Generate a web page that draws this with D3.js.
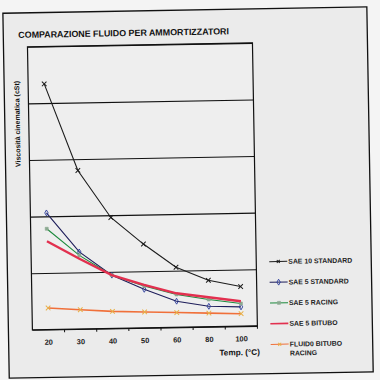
<!DOCTYPE html>
<html>
<head>
<meta charset="utf-8">
<script src="https://cdn.jsdelivr.net/npm/d3@7"></script>
<style>
  body { margin: 0; background: #f4f4f4; }
  svg { display: block; font-family: "Liberation Sans", Arial, sans-serif; }
</style>
</head>
<body>
<div id="vis"></div>
<script>
// temperature categories (°C)
const temps = ['20', '30', '40', '50', '60', '80', '100'];
const seriesNames = ['SAE 10 STANDARD', 'SAE 5 STANDARD', 'SAE 5 RACING', 'SAE 5 BITUBO', 'FLUIDO BITUBO RACING'];
// viscosity values (cSt, estimated)
const sae10Standard = [217, 140, 98, 74, 53, 41, 35];
const sae5Standard = [103, 68, 47, 34, 23, 18, 17];
const sae5Racing = [89, 65, 47, 37, 29, 24, 20];
const sae5Bitubo = [78, 62, 47, 38, 30, 26, 22];
const fluidoBituboRacing = [19, 17, 15, 14, 13, 12, 11];
const yTicks = [0, 50, 100, 150, 200, 250];

function drawChart() {
  const svg = d3.select('#vis').append('svg').attr('width', 380).attr('height', 380);
  const root = svg.append('g').attr('transform', 'rotate(-1, 190, 190)');

  // scanned page frame
  root.append('rect')
    .attr('x', 6).attr('y', 10).attr('width', 364).attr('height', 365)
    .attr('fill', '#ebebeb').attr('stroke', '#111').attr('stroke-width', 1.3);

  const margins = { top: 44, right: 125, bottom: 53, left: 30 };
  const chartWidth = 380 - margins.left - margins.right;
  const chartHeight = 380 - margins.top - margins.bottom;
  const chartArea = root.append('g').attr('transform', `translate(${margins.left},${margins.top})`);

  const xScale = d3.scaleBand().domain(temps).range([0, chartWidth]);
  const yScale = d3.scaleLinear().domain([0, 250]).range([chartHeight, 0]);

  chartArea.append('rect')
    .attr('width', chartWidth).attr('height', chartHeight)
    .attr('fill', '#eeeeee');

  // gridlines
  const grid = d3.axisLeft(yScale).tickValues(yTicks).tickSize(-chartWidth).tickFormat('');
  chartArea.append('g').attr('class', 'gridlines').call(grid)
    .call(g => g.select('.domain').remove())
    .selectAll('line').attr('stroke', '#111').attr('stroke-width', 1.1);

  // plot frame
  chartArea.append('rect')
    .attr('width', chartWidth).attr('height', chartHeight)
    .attr('fill', 'none').attr('stroke', '#111').attr('stroke-width', 1.2);

  // x axis with ticks between categories
  const bottom = chartArea.append('g').attr('transform', `translate(0,${chartHeight})`);
  bottom.append('g')
    .call(d3.axisBottom(xScale).tickSize(0).tickPadding(10))
    .call(g => g.select('.domain').remove())
    .selectAll('text')
    .attr('font-size', '7.4px').attr('font-weight', 'bold').attr('fill', '#222')
    .attr('font-family', '"Liberation Sans", Arial, sans-serif');
  bottom.selectAll('.between')
    .data(temps)
    .join('line')
    .attr('class', 'between')
    .attr('x1', d => xScale(d) + xScale.bandwidth()).attr('x2', d => xScale(d) + xScale.bandwidth())
    .attr('y1', 0).attr('y2', 3)
    .attr('stroke', '#111');

  const series = [
    { name: seriesNames[0], values: sae10Standard, color: '#1c1c1c', width: 1.1, marker: 'x', mColor: '#1c1c1c' },
    { name: seriesNames[1], values: sae5Standard, color: '#1d1d5a', width: 1.1, marker: 'diamond', mColor: '#2a3a9a' },
    { name: seriesNames[2], values: sae5Racing, color: '#1c8a3c', width: 1.1, marker: 'square', mColor: '#8aa890' },
    { name: seriesNames[3], values: sae5Bitubo, color: '#e2304f', width: 2.4, marker: null },
    { name: seriesNames[4], values: fluidoBituboRacing, color: '#f0703a', width: 1.6, marker: 'x', mColor: '#e8b048' }
  ];

  const line = d3.line()
    .x((d, i) => xScale(temps[i]) + xScale.bandwidth() / 2)
    .y(d => yScale(d));

  function drawMarker(g, type, color, size) {
    if (type === 'x') {
      g.append('path').attr('d', `M${-size},${-size}L${size},${size}M${-size},${size}L${size},${-size}`)
        .attr('stroke', color).attr('stroke-width', 1).attr('fill', 'none');
    } else if (type === 'diamond') {
      g.append('path').attr('d', d3.symbol(d3.symbolDiamond, 10)())
        .attr('fill', 'none').attr('stroke', color).attr('stroke-width', 0.9);
    } else if (type === 'square') {
      g.append('path').attr('d', d3.symbol(d3.symbolSquare, 9)())
        .attr('fill', color).attr('stroke', color).attr('stroke-width', 0.6);
    }
  }

  series.forEach(s => {
    chartArea.append('path')
      .datum(s.values)
      .attr('d', line)
      .attr('fill', 'none')
      .attr('stroke', s.color)
      .attr('stroke-width', s.width);
    if (s.marker) {
      s.values.forEach((v, i) => {
        const g = chartArea.append('g')
          .attr('transform', `translate(${xScale(temps[i]) + xScale.bandwidth() / 2},${yScale(v)})`);
        drawMarker(g, s.marker, s.mColor, 2.3);
      });
    }
  });

  // title and axis labels
  root.append('text')
    .attr('x', 21).attr('y', 35)
    .attr('font-size', '8.9px').attr('font-weight', 'bold').attr('fill', '#111')
    .text('COMPARAZIONE FLUIDO PER AMMORTIZZATORI');

  root.append('text')
    .attr('transform', 'translate(21,121) rotate(-90)')
    .attr('text-anchor', 'middle')
    .attr('font-size', '7px').attr('font-weight', 'bold').attr('fill', '#111')
    .text('Viscosità cinematica (cSt)');

  root.append('text')
    .attr('x', 257).attr('y', 356)
    .attr('text-anchor', 'end')
    .attr('font-size', '8.2px').attr('font-weight', 'bold').attr('fill', '#111')
    .text('Temp. (°C)');

  // legend
  const legend = root.append('g').attr('transform', 'translate(268,263)');
  series.forEach((s, i) => {
    const row = legend.append('g').attr('transform', `translate(0,${i * 20.7})`);
    row.append('line')
      .attr('x1', 0).attr('x2', 18).attr('y1', 0).attr('y2', 0)
      .attr('stroke', s.color).attr('stroke-width', s.width > 2 ? 1.6 : 1);
    if (s.marker) {
      const m = row.append('g').attr('transform', 'translate(9,0)');
      drawMarker(m, s.marker, s.mColor, 1.5);
    }
    const words = s.name === 'FLUIDO BITUBO RACING' ? ['FLUID0 BITUBO', 'RACING'] : [s.name];
    const t = row.append('text')
      .attr('x', 19).attr('y', 2.4)
      .attr('font-size', '6.9px').attr('font-weight', 'bold').attr('fill', '#222');
    words.forEach((w, j) => {
      t.append('tspan').attr('x', 19).attr('dy', j === 0 ? 0 : 9).text(w);
    });
  });
}
drawChart();
</script>
</body>
</html>
